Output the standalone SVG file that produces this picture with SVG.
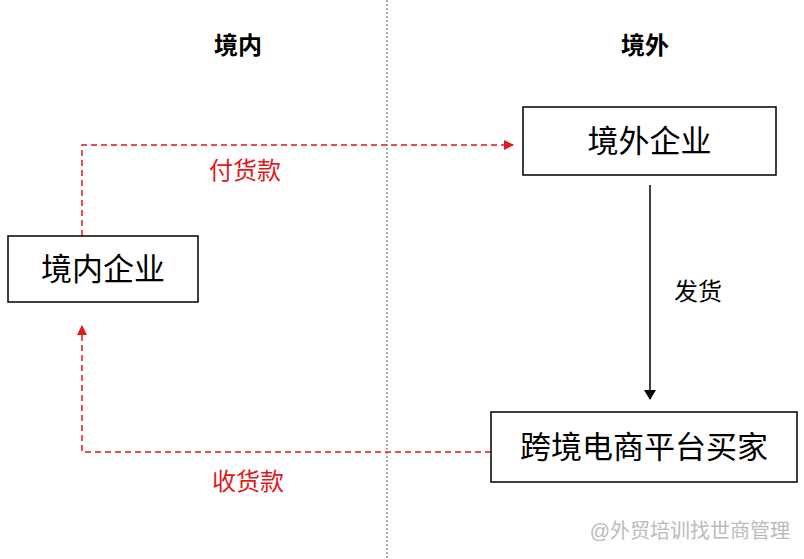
<svg xmlns="http://www.w3.org/2000/svg" width="804" height="559" viewBox="0 0 804 559">
<style>
.t{font-family:"Liberation Sans","Noto Sans CJK SC",sans-serif}
.box{fill:#fff;stroke:#000;stroke-width:1.5}
.bl{font-size:31px;fill:#000}
.red{stroke:#e0191e;stroke-width:1.5;stroke-dasharray:6,4;fill:none}
.rl{font-size:24px;fill:#e0191e}
</style>
<defs>
<marker id="ar" markerWidth="10" markerHeight="10" refX="9" refY="5" orient="auto" markerUnits="userSpaceOnUse"><path d="M0,0L10,5L0,10z" fill="#e0191e"/></marker>
<marker id="ab" markerWidth="10" markerHeight="12" refX="9" refY="6" orient="auto" markerUnits="userSpaceOnUse"><path d="M0,0L10,6L0,12z" fill="#000"/></marker>
</defs>
<rect width="804" height="559" fill="#fff"/>
<line x1="387" y1="0" x2="387" y2="559" stroke="#555" stroke-width="1" stroke-dasharray="2,2"/>
<text class="t" x="238" y="54" font-size="24" font-weight="bold" text-anchor="middle">境内</text>
<text class="t" x="645" y="54" font-size="24" font-weight="bold" text-anchor="middle">境外</text>
<g id="connectors">
<path class="red" d="M82,236V145H513" marker-end="url(#ar)"/>
<path class="red" d="M491,452H82V326" marker-end="url(#ar)"/>
<line x1="650" y1="185" x2="650" y2="399" stroke="#000" stroke-width="1.5" marker-end="url(#ab)"/>
<text class="t rl" x="245" y="179" text-anchor="middle">付货款</text>
<text class="t rl" x="248" y="490" text-anchor="middle">收货款</text>
<text class="t" x="698" y="300" font-size="24" text-anchor="middle">发货</text>
</g>
<g id="n1"><rect class="box" x="523" y="107" width="253" height="68"/><text class="t bl" x="649.5" y="152" text-anchor="middle">境外企业</text></g>
<g id="n2"><rect class="box" x="8" y="236" width="190" height="66"/><text class="t bl" x="103" y="280" text-anchor="middle">境内企业</text></g>
<g id="n3"><rect class="box" x="491" y="412" width="306" height="70"/><text class="t bl" x="644" y="458" text-anchor="middle">跨境电商平台买家</text></g>
<text class="t" x="790" y="538" font-size="20" fill="#bbb" text-anchor="end">@外贸培训找世商管理</text>
</svg>
